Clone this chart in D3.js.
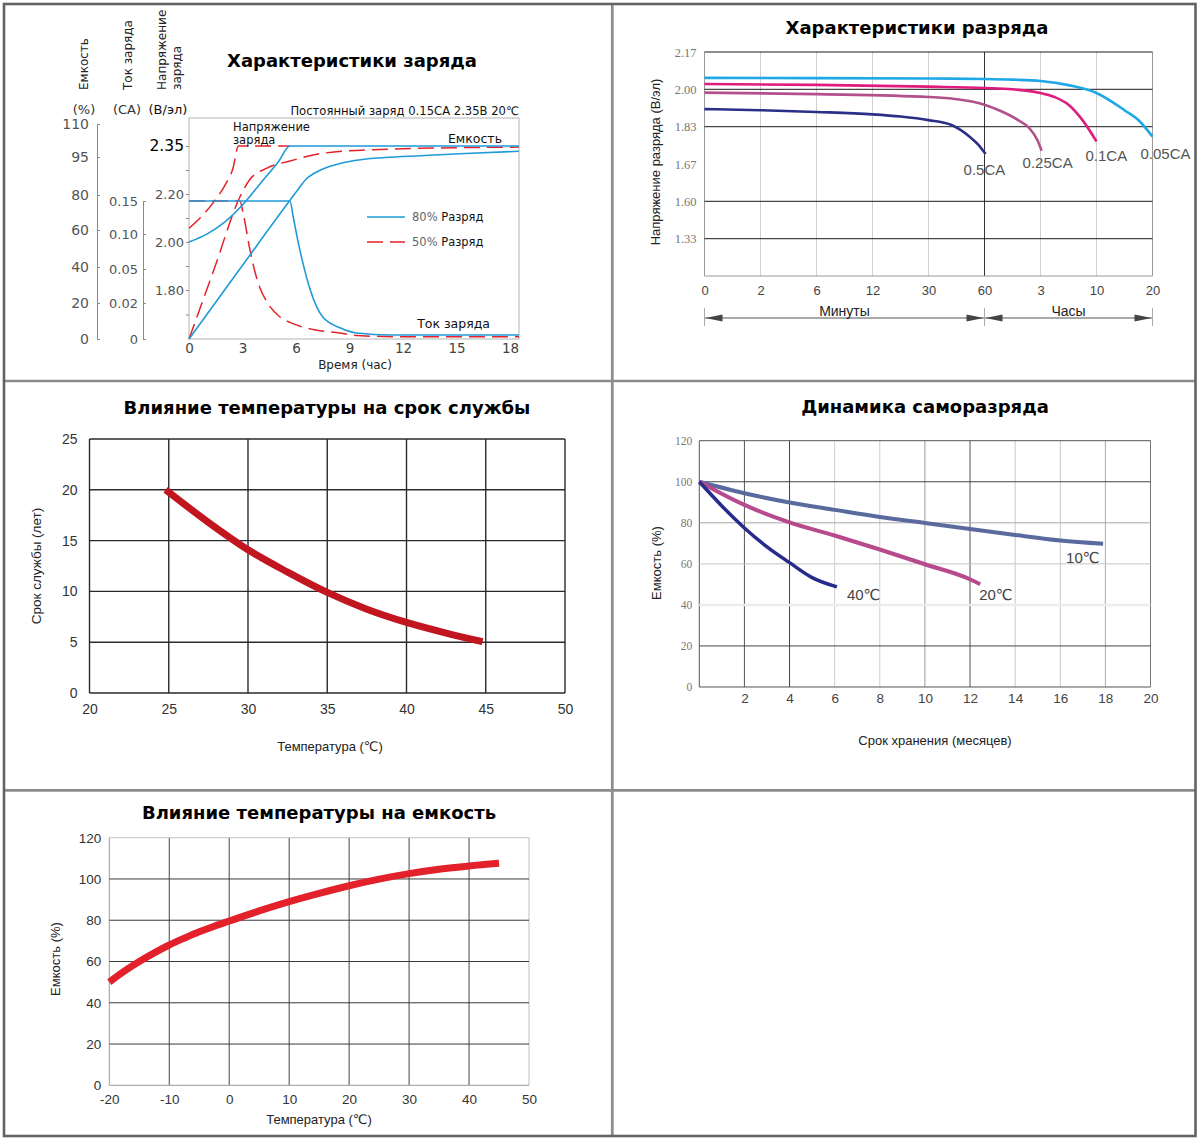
<!DOCTYPE html>
<html><head><meta charset="utf-8">
<script src="https://cdn.jsdelivr.net/npm/d3@7/dist/d3.min.js"></script>
<style>html,body{margin:0;padding:0;background:#fff}svg{display:block}</style>
</head><body>
<svg id="chart" width="1200" height="1141"></svg>
<script>
// ---------- Panel 1: Характеристики заряда ----------
const chargeTimeTicks = [0, 3, 6, 9, 12, 15, 18];
const capacityTicks = [0, 20, 40, 60, 80, 95, 110];
const currentTicks = [0, 0.02, 0.05, 0.10, 0.15];
const currentTickLabels = ["0", "0.02", "0.05", "0.10", "0.15"];
const voltageTicks = [1.80, 2.00, 2.20, 2.35];
const voltageMinorTicks = [1.70, 1.90, 2.10, 2.275];
// [hours, value]
const voltage80 = [[0,2.00],[1,2.033],[2,2.083],[3,2.154],[4,2.233],[5,2.30],[5.66,2.35],[18.5,2.35]];
const capacity80 = [[0,0],[2.83,38.6],[5.66,77],[6.2,83],[6.6,86.5],[7,88.5],[7.5,90.3],[8.5,92.5],[9.5,93.8],[11,94.8],[13,95.6],[15.5,96.6],[18.5,97.6]];
const current80 = [[0,0.15],[5.66,0.15],[5.85,0.125],[6.1,0.091],[6.45,0.052],[6.8,0.0315],[7.5,0.0122],[8.5,0.0061],[9.4,0.0033],[11.3,0.0022],[18.5,0.0022]];
const voltage50 = [[0,2.057],[0.62,2.10],[1.35,2.163],[2.02,2.228],[2.47,2.281],[2.77,2.35],[5.66,2.35]];
const capacity50 = [[0,0],[1.43,39.4],[2.86,79],[3.4,86],[4.4,90.7],[5.66,93.4],[7.5,96.7],[11.3,98.6],[18.5,99.5]];
const current50 = [[0,0.15],[2.86,0.15],[3.03,0.132],[3.42,0.077],[3.70,0.0474],[3.98,0.0332],[4.37,0.0209],[5.10,0.0122],[5.66,0.0092],[6.95,0.0053],[8.47,0.0033],[9.42,0.0019],[11.83,0.0013],[18.5,0.0013]];

// ---------- Panel 2: Характеристики разряда ----------
const dischargeXLabels = ["0","2","6","12","30","60","3","10","20"];
const dischargeYTicks = [2.17, 2.00, 1.83, 1.67, 1.60, 1.33];
const dischargeSeriesNames = ["0.05CA","0.1CA","0.25CA","0.5CA"];
// [tick position index, V/cell]
const discharge005 = [[0,2.052],[2,2.051],[4,2.049],[5,2.047],[5.5,2.044],[6,2.038],[6.5,2.019],[7,1.983],[7.5,1.905],[7.77,1.855],[8,1.787]];
const discharge01 = [[0,2.024],[2,2.02],[4,2.012],[5,2.006],[5.5,2.0],[6,1.983],[6.25,1.965],[6.5,1.93],[6.75,1.86],[7,1.767]];
const discharge025 = [[0,1.985],[2,1.978],[4,1.965],[4.5,1.955],[5,1.93],[5.3,1.90],[5.6,1.86],[5.8,1.824],[5.95,1.77],[6.02,1.727]];
const discharge05 = [[0,1.91],[1,1.905],[2,1.897],[3,1.886],[3.5,1.876],[4,1.86],[4.4,1.839],[4.73,1.788],[4.9,1.75],[5.02,1.713]];

// ---------- Panel 3: Влияние температуры на срок службы ----------
const lifeTempTicks = [20, 25, 30, 35, 40, 45, 50];
const lifeYearTicks = [0, 5, 10, 15, 20, 25];
const lifeCurve = [[24.8,20],[27.5,16.8],[30,14.1],[32.5,11.9],[35,9.9],[37.5,8.25],[40,6.95],[42.5,5.9],[44.8,5.05]];

// ---------- Panel 4: Динамика саморазряда ----------
const storageMonthTicks = [2, 4, 6, 8, 10, 12, 14, 16, 18, 20];
const storageCapTicks = [0, 20, 40, 60, 80, 100, 120];
const selfDischargeNames = ["10℃", "20℃", "40℃"];
const selfDischarge10 = [[0,100],[2,94.4],[4,89.9],[6,86.3],[8,82.8],[10,79.9],[12,77],[14,74.1],[16,71.4],[17.9,69.8]];
const selfDischarge20 = [[0,100],[2,88.7],[4,80.2],[6,73.8],[8,67],[10,59.8],[12,52.5],[12.45,50.1]];
const selfDischarge40 = [[0,100],[1,88.2],[2,77.5],[3,68.3],[4,60.6],[5,53.3],[6.1,48.8]];

// ---------- Panel 5: Влияние температуры на емкость ----------
const capTempTicks = [-20, -10, 0, 10, 20, 30, 40, 50];
const capPctTicks = [0, 20, 40, 60, 80, 100, 120];
const capTempCurve = [[-20,50],[-17.5,55.3],[-15,60.0],[-12.5,64.2],[-10,68.0],[-7.5,71.3],[-5,74.4],[-2.5,77.1],[0,79.6],[5,84.5],[10,89],[15,93],[20,96.7],[25,99.9],[30,102.6],[35,104.7],[40,106.3],[45,107.6]];

// ================= DRAWING =================
const svg = d3.select("#chart");
const F_DV = "'DejaVu Sans', sans-serif";
const F_LS = "'Liberation Sans', Arial, 'DejaVu Sans', sans-serif";
const F_SERIF = "'Liberation Serif', 'DejaVu Serif', serif";
const plain = d => String(d);

function addText(g, x, y, s, o = {}) {
  const t = g.append("text").attr("x", x).attr("y", y).text(s)
    .attr("font-family", o.family || F_DV).attr("font-size", o.size || 12)
    .attr("fill", o.fill || "#222").attr("text-anchor", o.anchor || "start");
  if (o.weight) t.attr("font-weight", o.weight);
  if (o.rotate) t.attr("transform", `rotate(-90,${x},${y})`);
  return t;
}
function styleAxis(g, o) {
  g.selectAll("text").attr("font-family", o.family).attr("font-size", o.size).attr("fill", o.fill);
  g.selectAll(".tick line").attr("stroke", o.stroke || "#888");
  if (o.noDomain) g.select(".domain").remove();
  else g.select(".domain").attr("stroke", o.stroke || "#888");
}
function title(g, x, y, s) { addText(g, x, y, s, {size: 18, weight: "bold", anchor: "middle", fill: "#000"}); }

// ---------- Panel 1 ----------
{
  const g = svg.append("g");
  const x = d3.scaleLinear().domain([0, 18.5]).range([189, 519]);
  const yCap = d3.scaleLinear().domain(capacityTicks).range([339, 303, 267, 230, 195, 157, 124]);
  const yCur = d3.scaleLinear().domain(currentTicks).range([339, 303, 269, 234, 201]);
  const yVolt = d3.scaleLinear().domain([1.60, 1.80, 2.00, 2.20, 2.35, 2.50]).range([339, 290, 242, 194, 146, 98]);

  title(g, 352, 67, "Характеристики заряда");
  addText(g, 88, 90, "Емкость", {rotate: true, size: 12});
  addText(g, 132, 90, "Ток заряда", {rotate: true, size: 12});
  addText(g, 166, 90, "Напряжение", {rotate: true, size: 12});
  addText(g, 181, 90, "заряда", {rotate: true, size: 12});
  addText(g, 84, 114, "(%)", {anchor: "middle", size: 13, fill: "#333"});
  addText(g, 127, 114, "(СА)", {anchor: "middle", size: 13, fill: "#333"});
  addText(g, 168, 114, "(В/эл)", {anchor: "middle", size: 13, fill: "#111"});
  addText(g, 519, 115, "Постоянный заряд 0.15СА 2.35В 20℃", {anchor: "end", size: 11.6, fill: "#111"});

  g.append("rect").attr("x", 189).attr("y", 118).attr("width", 330).attr("height", 221)
    .attr("fill", "none").attr("stroke", "#b4b4b4");

  const capAx = g.append("g").attr("transform", "translate(97,0)")
    .call(d3.axisLeft(yCap).tickValues(capacityTicks).tickSize(-3).tickSizeOuter(0).tickPadding(8).tickFormat(plain));
  styleAxis(capAx, {family: F_DV, size: 14, fill: "#555", stroke: "#8a8a8a"});
  const curAx = g.append("g").attr("transform", "translate(143,0)")
    .call(d3.axisLeft(yCur).tickValues(currentTicks).tickSize(-3).tickSizeOuter(0).tickPadding(5)
      .tickFormat((d, i) => currentTickLabels[i]));
  styleAxis(curAx, {family: F_DV, size: 13, fill: "#555", stroke: "#8a8a8a"});
  const vAx = g.append("g").attr("transform", "translate(189,0)")
    .call(d3.axisLeft(yVolt).tickValues(voltageTicks).tickSize(3).tickPadding(2).tickFormat(d3.format(".2f")));
  styleAxis(vAx, {family: F_DV, size: 13, fill: "#555", stroke: "#8a8a8a", noDomain: true});
  vAx.selectAll(".tick text").filter(d => d === 2.35).attr("font-size", 15.5).attr("fill", "#000");
  const vMinor = g.append("g").attr("transform", "translate(189,0)")
    .call(d3.axisLeft(yVolt).tickValues(voltageMinorTicks).tickSize(3).tickFormat(""));
  styleAxis(vMinor, {family: F_DV, size: 13, fill: "#555", stroke: "#8a8a8a", noDomain: true});
  const tAx = g.append("g").attr("transform", "translate(0,339)")
    .call(d3.axisBottom(x).tickValues(chargeTimeTicks).tickSize(0).tickPadding(4).tickFormat(plain));
  styleAxis(tAx, {family: F_DV, size: 13.5, fill: "#444", noDomain: true});
  addText(g, 355, 369, "Время (час)", {anchor: "middle", size: 12, fill: "#222"});

  const RED = "#e42229", BLUE = "#1e9bd7";
  const mk = ys => d3.line().x(d => x(d[0])).y(d => ys(d[1])).curve(d3.curveMonotoneX);
  [[voltage50, yVolt], [capacity50, yCap], [current50, yCur]].forEach(([d, s]) =>
    g.append("path").attr("d", mk(s)(d)).attr("fill", "none").attr("stroke", RED)
      .attr("stroke-width", 1.5).attr("stroke-dasharray", "16,7"));
  [[voltage80, yVolt], [capacity80, yCap], [current80, yCur]].forEach(([d, s]) =>
    g.append("path").attr("d", mk(s)(d)).attr("fill", "none").attr("stroke", BLUE).attr("stroke-width", 1.6));

  addText(g, 233, 131, "Напряжение", {size: 11.5, fill: "#111"});
  addText(g, 233, 144, "заряда", {size: 11.5, fill: "#111"});
  addText(g, 502, 143, "Емкость", {anchor: "end", size: 12.5, fill: "#111"});
  addText(g, 490, 328, "Ток заряда", {anchor: "end", size: 12.5, fill: "#111"});

  g.append("line").attr("x1", 367).attr("x2", 405).attr("y1", 217).attr("y2", 217).attr("stroke", BLUE).attr("stroke-width", 1.6);
  g.append("line").attr("x1", 367).attr("x2", 405).attr("y1", 242).attr("y2", 242).attr("stroke", RED)
    .attr("stroke-width", 1.5).attr("stroke-dasharray", "16,7");
  const l1 = addText(g, 412, 221, "", {size: 11.5});
  l1.append("tspan").attr("fill", "#666").text("80%");
  l1.append("tspan").attr("fill", "#111").text(" Разряд");
  const l2 = addText(g, 412, 246, "", {size: 11.5});
  l2.append("tspan").attr("fill", "#666").text("50%");
  l2.append("tspan").attr("fill", "#111").text(" Разряд");
}

// ---------- Panel 2 ----------
{
  const g = svg.append("g");
  const x = d3.scaleLinear().domain([0, dischargeXLabels.length - 1]).range([704.5, 1152.5]);
  const y = d3.scaleLinear().domain([1.06, 1.33, 1.60, 1.67, 1.83, 2.00, 2.17]).range([276, 238.7, 201.3, 164, 126.7, 89.3, 52]);
  title(g, 917, 34, "Характеристики разряда");

  const vColors = ["#999", "#d0d0d0", "#d0d0d0", "#d0d0d0", "#d0d0d0", "#333", "#d0d0d0", "#d0d0d0", "#999"];
  d3.range(dischargeXLabels.length).forEach(i =>
    g.append("line").attr("x1", x(i)).attr("x2", x(i)).attr("y1", y(2.17)).attr("y2", y(1.06)).attr("stroke", vColors[i]));
  [2.17, 2.00, 1.83, 1.60, 1.33].forEach(v =>
    g.append("line").attr("x1", x(0)).attr("x2", x(8)).attr("y1", y(v)).attr("y2", y(v)).attr("stroke", "#1a1a1a"));
  g.append("line").attr("x1", x(0)).attr("x2", x(8)).attr("y1", y(1.06)).attr("y2", y(1.06)).attr("stroke", "#999");

  const yAx = g.append("g").attr("transform", `translate(${x(0)},0)`)
    .call(d3.axisLeft(y).tickValues(dischargeYTicks).tickSize(0).tickPadding(8).tickFormat(d3.format(".2f")));
  styleAxis(yAx, {family: F_SERIF, size: 12.5, fill: "#777", noDomain: true});
  const xAx = g.append("g").attr("transform", `translate(0,${y(1.06)})`)
    .call(d3.axisBottom(x).tickValues(d3.range(dischargeXLabels.length)).tickSize(0).tickPadding(10)
      .tickFormat(i => dischargeXLabels[i]));
  styleAxis(xAx, {family: F_LS, size: 13, fill: "#444", noDomain: true});
  addText(g, 660, 162, "Напряжение разряда (В/эл)", {rotate: true, anchor: "middle", size: 13, family: F_LS, fill: "#222"});

  // range arrows
  const ay = 318, x60 = x(5);
  g.append("line").attr("x1", x(0)).attr("x2", x(8)).attr("y1", ay).attr("y2", ay).attr("stroke", "#555");
  [x(0), x60, x(8)].forEach(px => g.append("line").attr("x1", px).attr("x2", px).attr("y1", 308).attr("y2", 326).attr("stroke", "#aaa"));
  const head = (tip, dir) => g.append("path")
    .attr("d", `M${tip},${ay}L${tip + dir * 17},${ay - 3.5}L${tip + dir * 17},${ay + 3.5}Z`).attr("fill", "#444");
  head(x(0) + 1, 1); head(x60 - 1, -1); head(x60 + 1, 1); head(x(8) - 1, -1);
  addText(g, (x(0) + x60) / 2, 316, "Минуты", {anchor: "middle", size: 14, family: F_LS, fill: "#222"});
  addText(g, (x60 + x(8)) / 2, 316, "Часы", {anchor: "middle", size: 14, family: F_LS, fill: "#222"});

  const series = [discharge005, discharge01, discharge025, discharge05];
  const colors = ["#1ea8e6", "#e01a7e", "#b3508c", "#2b2f87"];
  const labelOffsets = [[-12, 22], [-11, 20], [-19, 17.5], [-22, 21.5]];
  const line = d3.line().x(d => x(d[0])).y(d => y(d[1])).curve(d3.curveMonotoneX);
  series.forEach((s, i) => {
    g.append("path").attr("d", line(s)).attr("fill", "none").attr("stroke", colors[i]).attr("stroke-width", 2.6);
    const last = s[s.length - 1];
    addText(g, x(last[0]) + labelOffsets[i][0], y(last[1]) + labelOffsets[i][1], dischargeSeriesNames[i],
      {size: 15, family: F_LS, fill: "#555"});
  });
}

// ---------- Panel 3 ----------
{
  const g = svg.append("g");
  const x = d3.scaleLinear().domain([20, 50]).range([89.5, 565]);
  const y = d3.scaleLinear().domain([0, 25]).range([693, 439]);
  title(g, 327, 414, "Влияние температуры на срок службы");
  lifeTempTicks.forEach(t => g.append("line").attr("x1", x(t)).attr("x2", x(t)).attr("y1", y(0)).attr("y2", y(25))
    .attr("stroke", "#2a2a2a").attr("stroke-width", 1.4));
  lifeYearTicks.forEach(v => g.append("line").attr("x1", x(20)).attr("x2", x(50)).attr("y1", y(v)).attr("y2", y(v))
    .attr("stroke", "#2a2a2a").attr("stroke-width", 1.4));
  const xAx = g.append("g").attr("transform", `translate(0,${y(0)})`)
    .call(d3.axisBottom(x).tickValues(lifeTempTicks).tickSize(0).tickPadding(11).tickFormat(plain));
  styleAxis(xAx, {family: F_LS, size: 14, fill: "#333", noDomain: true});
  const yAx = g.append("g").attr("transform", `translate(${x(20)},0)`)
    .call(d3.axisLeft(y).tickValues(lifeYearTicks).tickSize(0).tickPadding(12).tickFormat(plain));
  styleAxis(yAx, {family: F_LS, size: 14, fill: "#333", noDomain: true});
  addText(g, 41, 566, "Срок службы (лет)", {rotate: true, anchor: "middle", size: 13.5, family: F_LS, fill: "#222"});
  addText(g, 330, 751, "Температура (℃)", {anchor: "middle", size: 13, family: F_LS, fill: "#222"});
  g.append("path").attr("d", d3.line().x(d => x(d[0])).y(d => y(d[1])).curve(d3.curveMonotoneX)(lifeCurve))
    .attr("fill", "none").attr("stroke", "#c1161f").attr("stroke-width", 7);
}

// ---------- Panel 4 ----------
{
  const g = svg.append("g");
  const x = d3.scaleLinear().domain([0, 20]).range([699.3, 1150.5]);
  const y = d3.scaleLinear().domain([0, 120]).range([687, 440.7]);
  title(g, 925, 413, "Динамика саморазряда");
  const vCol = {0: "#555", 2: "#555", 4: "#444", 6: "#cfcfcf", 8: "#cfcfcf", 10: "#9a9a9a", 12: "#555", 14: "#c8c8c8", 16: "#c8c8c8", 18: "#aaa", 20: "#777"};
  [0].concat(storageMonthTicks).forEach(t => g.append("line").attr("x1", x(t)).attr("x2", x(t)).attr("y1", y(0)).attr("y2", y(120))
    .attr("stroke", vCol[t]));
  const hCol = {0: "#555", 20: "#444", 40: "#ececec", 60: "#c6c6c6", 80: "#a8a8a8", 100: "#444", 120: "#555"};
  storageCapTicks.forEach(v => g.append("line").attr("x1", x(0)).attr("x2", x(20)).attr("y1", y(v)).attr("y2", y(v))
    .attr("stroke", hCol[v]).attr("stroke-width", v === 40 ? 2.5 : 1));
  const yAx = g.append("g").attr("transform", `translate(${x(0)},0)`)
    .call(d3.axisLeft(y).tickValues(storageCapTicks).tickSize(0).tickPadding(7).tickFormat(plain));
  styleAxis(yAx, {family: F_SERIF, size: 11.5, fill: "#777", noDomain: true});
  const xAx = g.append("g").attr("transform", `translate(0,${y(0)})`)
    .call(d3.axisBottom(x).tickValues(storageMonthTicks).tickSize(0).tickPadding(6).tickFormat(plain));
  styleAxis(xAx, {family: F_LS, size: 13.5, fill: "#444", noDomain: true});
  addText(g, 661, 563, "Емкость (%)", {rotate: true, anchor: "middle", size: 13, family: F_LS, fill: "#222"});
  addText(g, 935, 745, "Срок хранения (месяцев)", {anchor: "middle", size: 13, family: F_LS, fill: "#222"});

  const series = [selfDischarge10, selfDischarge20, selfDischarge40];
  const colors = ["#5a6a9e", "#b64a8d", "#272b8b"];
  const widths = [4, 4, 3.5];
  const labelOffsets = [[-37, 19], [-1, 16], [10, 13.5]];
  const line = d3.line().x(d => x(d[0])).y(d => y(d[1])).curve(d3.curveMonotoneX);
  series.forEach((s, i) => {
    g.append("path").attr("d", line(s)).attr("fill", "none").attr("stroke", colors[i]).attr("stroke-width", widths[i]);
    const last = s[s.length - 1];
    addText(g, x(last[0]) + labelOffsets[i][0], y(last[1]) + labelOffsets[i][1], selfDischargeNames[i],
      {size: 15, family: F_LS, fill: "#444"});
  });
}

// ---------- Panel 5 ----------
{
  const g = svg.append("g");
  const x = d3.scaleLinear().domain([-20, 50]).range([109.3, 529]);
  const y = d3.scaleLinear().domain([0, 120]).range([1085.3, 837.7]);
  title(g, 319, 819, "Влияние температуры на емкость");
  capTempTicks.forEach(t => g.append("line").attr("x1", x(t)).attr("x2", x(t)).attr("y1", y(0)).attr("y2", y(120))
    .attr("stroke", t === 50 ? "#c0c0c0" : (t === -20 ? "#999" : "#444")));
  capPctTicks.forEach(v => g.append("line").attr("x1", x(-20)).attr("x2", x(50)).attr("y1", y(v)).attr("y2", y(v))
    .attr("stroke", v === 120 ? "#c0c0c0" : (v === 0 ? "#999" : "#3a3a3a")));
  const yAx = g.append("g").attr("transform", `translate(${x(-20)},0)`)
    .call(d3.axisLeft(y).tickValues(capPctTicks).tickSize(0).tickPadding(8).tickFormat(plain));
  styleAxis(yAx, {family: F_LS, size: 13.5, fill: "#333", noDomain: true});
  const xAx = g.append("g").attr("transform", `translate(0,${y(0)})`)
    .call(d3.axisBottom(x).tickValues(capTempTicks).tickSize(0).tickPadding(9).tickFormat(plain));
  styleAxis(xAx, {family: F_LS, size: 13.5, fill: "#333", noDomain: true});
  addText(g, 60, 959, "Емкость (%)", {rotate: true, anchor: "middle", size: 13, family: F_LS, fill: "#222"});
  addText(g, 319, 1124, "Температура (℃)", {anchor: "middle", size: 13, family: F_LS, fill: "#222"});
  g.append("path").attr("d", d3.line().x(d => x(d[0])).y(d => y(d[1])).curve(d3.curveMonotoneX)(capTempCurve))
    .attr("fill", "none").attr("stroke", "#e3212b").attr("stroke-width", 7);
}

// ---------- Frame ----------
svg.append("line").attr("x1", 612.3).attr("x2", 612.3).attr("y1", 4).attr("y2", 1136).attr("stroke", "#8c8c8c").attr("stroke-width", 2.7);
svg.append("line").attr("x1", 4).attr("x2", 1195.5).attr("y1", 381).attr("y2", 381).attr("stroke", "#8c8c8c").attr("stroke-width", 2.7);
svg.append("line").attr("x1", 4).attr("x2", 1195.5).attr("y1", 790.3).attr("y2", 790.3).attr("stroke", "#8c8c8c").attr("stroke-width", 2.7);
svg.append("rect").attr("x", 4).attr("y", 4).attr("width", 1191.5).attr("height", 1132)
  .attr("fill", "none").attr("stroke", "#636363").attr("stroke-width", 2.6);
</script>
</body></html>
